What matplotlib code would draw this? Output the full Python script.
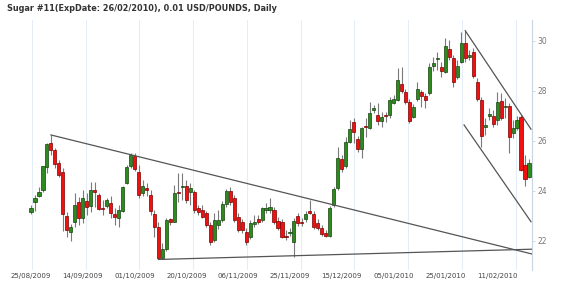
import matplotlib
matplotlib.use("Agg")
import matplotlib.pyplot as plt
import numpy as np

title = "Sugar #11(ExpDate: 26/02/2010), 0.01 USD/POUNDS, Daily"

opens = [23.15, 23.56, 23.78, 24.03, 24.95, 25.90, 25.63, 25.11, 24.76, 23.00,
         22.34, 22.76, 23.55, 22.89, 23.59, 23.38, 24.01, 23.83, 23.29, 23.40,
         23.52, 23.07, 22.90, 23.20, 24.32, 24.97, 25.37, 24.76, 23.90, 24.12,
         23.83, 23.06, 22.55, 21.31, 21.66, 22.86, 22.76, 23.92, 24.14, 24.20,
         23.96, 23.96, 23.30, 23.23, 23.10, 22.63, 22.03, 22.63, 22.83, 23.46,
         23.99, 23.70, 22.96, 22.76, 22.36, 22.16, 22.66, 22.86, 22.83, 23.23,
         23.21, 23.23, 22.80, 22.76, 22.17, 22.30, 21.96, 22.99, 22.73, 22.86,
         23.20, 23.07, 22.72, 22.50, 22.32, 22.19, 23.43, 24.09, 25.26, 24.99,
         25.96, 26.76, 26.06, 25.66, 26.59, 26.52, 27.21, 27.03, 26.77, 26.99,
         27.02, 27.52, 27.64, 28.27, 27.96, 27.56, 26.96, 27.66, 27.96, 27.80,
         27.91, 28.97, 29.27, 28.94, 28.76, 29.66, 29.30, 28.54, 29.16, 29.90,
         29.34, 29.55, 28.36, 27.63, 26.53, 27.00, 27.00, 26.83, 27.59, 27.35,
         27.39, 26.31, 26.50, 26.94, 25.03, 24.55]
highs = [23.43, 23.83, 24.16, 25.00, 25.91, 26.23, 25.71, 25.23, 24.91, 23.15,
         22.67, 23.91, 23.76, 24.03, 23.91, 24.36, 24.36, 23.91, 23.63, 23.72,
         23.79, 23.31, 23.43, 24.19, 25.03, 25.51, 25.51, 25.03, 24.43, 24.31,
         24.03, 23.23, 22.75, 21.91, 22.91, 22.91, 24.23, 24.71, 24.71, 24.43,
         24.30, 24.03, 23.43, 23.43, 23.19, 22.75, 23.11, 23.23, 23.59, 24.07,
         24.16, 23.83, 23.11, 22.87, 22.51, 22.83, 23.03, 23.03, 23.36, 23.51,
         23.71, 23.35, 22.95, 22.87, 22.43, 22.51, 22.91, 23.11, 22.91, 23.19,
         23.63, 23.19, 22.87, 22.63, 22.43, 23.39, 24.16, 25.76, 25.43, 26.16,
         26.83, 26.90, 26.19, 26.56, 26.91, 27.56, 27.43, 27.51, 27.15, 27.16,
         27.75, 27.83, 28.90, 28.96, 28.07, 27.67, 27.47, 28.36, 28.03, 27.91,
         29.11, 29.35, 29.55, 29.15, 30.10, 30.03, 29.43, 29.23, 30.36, 30.39,
         29.63, 29.71, 28.51, 27.75, 26.91, 27.31, 27.23, 27.96, 27.91, 27.71,
         27.51, 26.83, 26.99, 27.03, 25.43, 25.27]
lows = [23.07, 23.19, 23.75, 23.96, 24.71, 25.43, 24.91, 24.55, 22.39, 22.15,
        21.99, 22.56, 22.63, 22.71, 23.03, 23.16, 23.36, 23.23, 23.03, 23.30,
        22.91, 22.63, 22.55, 23.15, 24.27, 24.91, 24.79, 23.71, 23.79, 23.79,
        23.03, 22.15, 21.25, 21.27, 21.59, 22.63, 22.75, 23.55, 23.63, 23.51,
        23.43, 23.10, 23.03, 22.91, 22.55, 21.83, 21.95, 22.47, 22.75, 23.35,
        23.43, 22.75, 22.35, 22.31, 21.83, 22.07, 22.55, 22.67, 22.75, 23.11,
        23.11, 22.67, 22.43, 22.10, 22.03, 22.19, 21.35, 22.59, 22.59, 22.75,
        23.07, 22.47, 22.43, 22.19, 22.15, 22.15, 23.36, 24.03, 24.75, 24.91,
        25.91, 25.90, 25.55, 25.29, 26.16, 26.46, 27.11, 26.63, 26.55, 26.76,
        26.91, 27.47, 27.59, 27.91, 27.47, 26.72, 26.91, 27.59, 27.36, 27.30,
        27.83, 28.79, 28.83, 28.55, 28.71, 29.23, 28.16, 28.47, 29.11, 29.15,
        29.23, 28.51, 27.59, 25.76, 26.23, 26.83, 26.55, 26.63, 26.83, 26.91,
        25.52, 26.11, 26.43, 24.79, 24.19, 24.51]
closes = [23.31, 23.72, 23.94, 24.99, 25.86, 25.63, 25.06, 24.63, 23.06, 22.44,
          22.56, 23.43, 22.90, 23.69, 23.33, 24.01, 23.95, 23.27, 23.25, 23.63,
          23.09, 22.96, 23.21, 24.14, 24.95, 25.43, 24.87, 23.81, 24.19, 24.03,
          23.17, 22.56, 21.30, 21.66, 22.83, 22.76, 23.89, 23.90, 24.19, 23.63,
          24.09, 23.23, 23.16, 22.96, 22.63, 21.96, 22.83, 22.83, 23.46, 23.99,
          23.56, 22.83, 22.43, 22.43, 21.96, 22.70, 22.74, 22.76, 23.30, 23.32,
          23.35, 22.75, 22.49, 22.16, 22.13, 22.34, 22.80, 22.70, 22.69, 23.07,
          23.12, 22.54, 22.50, 22.27, 22.19, 23.30, 24.06, 25.30, 24.86, 25.96,
          26.46, 26.36, 25.66, 26.51, 26.53, 27.10, 27.29, 26.77, 26.96, 26.97,
          27.61, 27.66, 28.43, 28.00, 27.56, 26.78, 27.36, 28.06, 27.79, 27.63,
          28.96, 29.11, 29.31, 28.80, 29.79, 29.34, 28.36, 29.00, 29.90, 29.30,
          29.43, 28.59, 27.65, 26.19, 26.63, 27.07, 26.67, 27.54, 26.91, 27.39,
          26.13, 26.50, 26.83, 24.81, 24.47, 25.12]

date_labels = ["25/08/2009", "14/09/2009", "01/10/2009", "20/10/2009", "06/11/2009",
               "25/11/2009", "15/12/2009", "05/01/2010", "25/01/2010", "11/02/2010"]
label_idx = [0, 13, 26, 39, 52, 65, 78, 91, 104, 117]
grid_idx = [0.2, 13.7, 27.2, 40.7, 54.1, 67.8, 81.2, 94.6, 108.1, 121.7]

# trend lines: (start index, start price, end index, end price)
trend_lines = [
    (5.0, 26.23, 125.7, 21.47),
    (32.0, 21.25, 125.7, 21.66),
    (109.0, 30.40, 125.5, 26.46),
    (108.7, 26.63, 125.5, 22.76),
]

y_ticks = [22, 24, 26, 28, 30]

W, H = 570, 288
fig = plt.figure(figsize=(W / 100, H / 100), dpi=100)
fig.patch.set_facecolor("white")
ax = fig.add_axes([10 / W, 1 - 270 / H, (531.7 - 10) / W, (270 - 20) / H])
ax.set_facecolor("white")

n = len(opens)
idx = np.arange(n)
o = np.array(opens); c = np.array(closes)
hi = np.array(highs); lo = np.array(lows)
up = c >= o

for g in grid_idx:
    ax.axvline(g, color="#e3edf7", lw=0.8, zorder=0)

ax.vlines(idx, lo, hi, color="#7a7a7a", lw=0.8, zorder=2)
body_bot = np.minimum(o, c)
body_h = np.maximum(np.abs(c - o), 0.05)
ax.bar(idx[up], body_h[up], bottom=body_bot[up], width=0.78,
       color="#2c8a1e", edgecolor="#17440e", linewidth=0.5, zorder=3)
ax.bar(idx[~up], body_h[~up], bottom=body_bot[~up], width=0.78,
       color="#f01010", edgecolor="#7a0000", linewidth=0.5, zorder=3)

for x0, y0, x1, y1 in trend_lines:
    ax.plot([x0, x1], [y0, y1], color="#555555", lw=0.9, zorder=4)

ax.set_xlim(-5.27, 125.68)
# y-limits chosen so that 30 -> pixel 40.7 and 22 -> pixel 240.7
ax.set_ylim(30 - (270 - 40.7) / 25, 30 + (40.7 - 20) / 25)

for s in ["top", "left", "bottom"]:
    ax.spines[s].set_visible(False)
ax.spines["right"].set_color("#c8d4e0")
ax.spines["right"].set_linewidth(0.8)

ax.yaxis.tick_right()
ax.set_yticks(y_ticks)
ax.set_yticklabels([str(v) for v in y_ticks], fontsize=5.5, color="#777777")
ax.tick_params(axis="y", length=2, width=0.6, color="#c8d4e0", pad=2)

ax.set_xticks(label_idx)
ax.set_xticklabels(date_labels, fontsize=5, color="#444444")
ax.tick_params(axis="x", length=0, pad=2)

fig.text(7 / W, 1 - 4 / H, title, fontsize=5.9, fontweight="bold",
         color="#333333", ha="left", va="top")

fig.savefig("out.png", dpi=100, facecolor="white")
